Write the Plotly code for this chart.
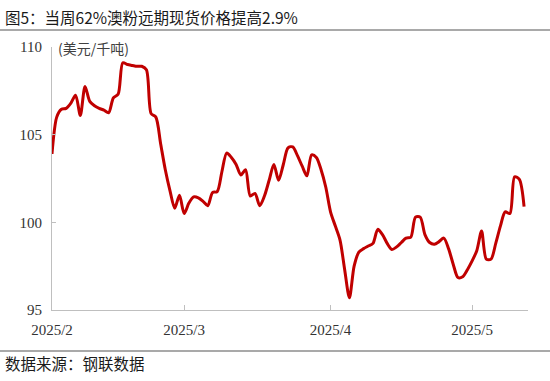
import pandas as pd
import plotly.graph_objects as go

title_text = "图5：当周62%澳粉远期现货价格提高2.9%"
source_text = "数据来源：钢联数据"
unit_text = "(美元/千吨)"

start_date = "2025-02-01"
values = [
    103.9, 106.0, 106.45, 106.5, 106.8, 107.25, 106.1, 107.75, 106.9, 106.65,
    106.5, 106.4, 106.25, 107.1, 107.3, 109.1, 109.0, 108.95, 108.9, 108.9,
    108.7, 106.2, 106.0, 104.5, 103.0, 101.8, 100.8, 101.55, 100.5, 101.1,
    101.45, 101.4, 101.2, 100.95, 101.7, 101.75, 102.9, 103.95, 103.7, 103.3,
    102.7, 103.0, 101.5, 101.65, 100.95, 101.5, 102.4, 103.3, 102.4, 103.3,
    104.25, 104.3, 103.8, 103.2, 102.65, 103.85, 103.7, 103.0, 102.0, 100.6,
    99.8, 99.0, 97.3, 95.7, 97.5, 98.3, 98.5, 98.65, 98.8, 99.6,
    99.3, 98.8, 98.45, 98.6, 98.85, 99.1, 99.15, 100.3, 100.3, 99.3,
    98.85, 98.75, 98.9, 99.1, 98.5, 97.6, 96.85, 96.9, 97.3, 97.8,
    98.4, 99.5, 97.9, 97.9, 98.8, 99.8, 100.6, 100.5, 102.6, 102.45,
    100.9,
]
dates = pd.date_range(start_date, periods=len(values), freq="D")

tick_dates = ["2025-02-01", "2025-03-01", "2025-04-01", "2025-05-01"]
tick_labels = ["2025/2", "2025/3", "2025/4", "2025/5"]
y_ticks = [95, 100, 105, 110]

W, H = 550, 381
L, R, T, B = 52, 22, 47, 71
PW, PH = W - L - R, H - T - B


def px_x(x):
    return (x - L) / PW


def px_y(y):
    return (H - B - y) / PH


fig = go.Figure()
fig.add_trace(go.Scatter(
    x=dates, y=values, mode="lines",
    line=dict(color="#C00000", width=3, shape="spline", smoothing=0.8),
    hoverinfo="skip", showlegend=False,
))

axis_font = dict(family="Liberation Serif, Times New Roman, serif", size=15, color="#333333")

fig.update_layout(
    width=W, height=H,
    margin=dict(l=L, r=R, t=T, b=B, pad=0),
    paper_bgcolor="white", plot_bgcolor="white",
    xaxis=dict(
        range=["2025-02-01", "2025-05-12 20:00"],
        tickmode="array", tickvals=tick_dates, ticktext=tick_labels,
        showgrid=False, zeroline=False,
        showline=True, linecolor="#BFBFBF", linewidth=1,
        ticks="inside", ticklen=5, tickcolor="#BFBFBF",
        tickfont=axis_font, ticklabelstandoff=6,
    ),
    yaxis=dict(
        range=[95, 110], tickmode="array", tickvals=y_ticks,
        showgrid=False, zeroline=False,
        showline=True, linecolor="#BFBFBF", linewidth=1,
        ticks="inside", ticklen=4, tickcolor="#BFBFBF",
        tickfont=axis_font, ticklabelstandoff=6,
    ),
    font=dict(family="Noto Sans CJK SC"),
)

fig.add_annotation(
    xref="paper", yref="paper", x=px_x(56), y=px_y(48), xanchor="left", yanchor="middle",
    text=unit_text, showarrow=False,
    font=dict(family="Noto Sans CJK SC", size=14, color="#404040"),
)
fig.add_annotation(
    xref="paper", yref="paper", x=px_x(3), y=px_y(17),
    xanchor="left", yanchor="middle", text=title_text, showarrow=False,
    font=dict(family="Noto Sans CJK SC", size=15.5, color="#1A1A1A"),
)
fig.add_annotation(
    xref="paper", yref="paper", x=px_x(3), y=px_y(363),
    xanchor="left", yanchor="middle", text=source_text, showarrow=False,
    font=dict(family="Noto Sans CJK SC", size=15.5, color="#1A1A1A"),
)
# separator rules
fig.add_shape(type="line", xref="paper", yref="paper",
              x0=px_x(0), x1=px_x(W), y0=px_y(30), y1=px_y(30),
              line=dict(color="#8C8C8C", width=1.5))
fig.add_shape(type="line", xref="paper", yref="paper",
              x0=px_x(0), x1=px_x(W), y0=px_y(351), y1=px_y(351),
              line=dict(color="#8C8C8C", width=1.5))

fig.write_html(
    "out.html",
    config={"displayModeBar": False, "staticPlot": True},
    post_script="document.body.style.margin='0';document.body.style.padding='0';",
)
